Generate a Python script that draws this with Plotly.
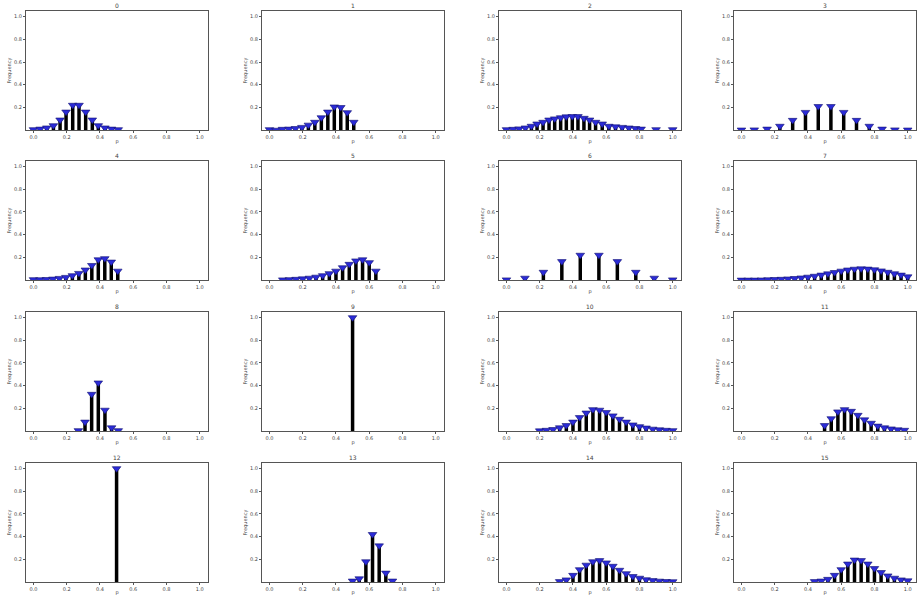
import plotly.graph_objects as go

titles = ["0", "1", "2", "3", "4", "5", "6", "7", "8", "9", "10", "11", "12", "13", "14", "15"]

x0 = [0.0, 0.04, 0.08, 0.12, 0.16, 0.196, 0.236, 0.274, 0.314, 0.354, 0.39, 0.43, 0.47, 0.51]
y0 = [0.005, 0.01, 0.02, 0.04, 0.09, 0.16, 0.22, 0.22, 0.16, 0.09, 0.04, 0.02, 0.01, 0.005]

x1 = [0.0, 0.039, 0.078, 0.117, 0.156, 0.195, 0.234, 0.273, 0.312, 0.351, 0.39, 0.429, 0.468, 0.507]
y1 = [0.005, 0.0, 0.008, 0.01, 0.015, 0.025, 0.045, 0.07, 0.11, 0.16, 0.205, 0.2, 0.155, 0.07]

x2 = [0.0, 0.04, 0.076, 0.114, 0.15, 0.184, 0.22, 0.256, 0.29, 0.326, 0.36, 0.396, 0.43, 0.466,
      0.5, 0.536, 0.576, 0.616, 0.656, 0.696, 0.736, 0.776, 0.81, 0.9, 1.0]
y2 = [0.005, 0.008, 0.012, 0.02, 0.035, 0.055, 0.07, 0.09, 0.1, 0.11, 0.118, 0.12, 0.12, 0.105,
      0.09, 0.07, 0.055, 0.035, 0.03, 0.025, 0.02, 0.015, 0.01, 0.005, 0.005]

x3 = [0.0, 0.077, 0.154, 0.231, 0.308, 0.385, 0.462, 0.538, 0.615, 0.692, 0.769, 0.846, 0.923, 1.0]
y3 = [0.002, 0.003, 0.01, 0.035, 0.087, 0.157, 0.209, 0.209, 0.157, 0.087, 0.035, 0.01, 0.003, 0.002]

x4 = [0.0, 0.039, 0.078, 0.117, 0.156, 0.195, 0.234, 0.273, 0.312, 0.351, 0.39, 0.429, 0.468, 0.507]
y4 = [0.005, 0.004, 0.006, 0.01, 0.016, 0.025, 0.04, 0.06, 0.09, 0.13, 0.18, 0.19, 0.16, 0.08]

x5 = [0.08, 0.12, 0.16, 0.2, 0.24, 0.28, 0.32, 0.36, 0.4, 0.44, 0.48, 0.52, 0.56, 0.6, 0.64]
y5 = [0.003, 0.005, 0.008, 0.012, 0.018, 0.027, 0.04, 0.058, 0.08, 0.11, 0.14, 0.17, 0.18, 0.155, 0.08]

x6 = [0.0, 0.111, 0.222, 0.333, 0.444, 0.556, 0.667, 0.778, 0.889, 1.0]
y6 = [0.003, 0.018, 0.07, 0.164, 0.22, 0.22, 0.164, 0.07, 0.018, 0.003]

x7 = [0.0, 0.04, 0.08, 0.12, 0.16, 0.2, 0.24, 0.28, 0.32, 0.36, 0.4, 0.44, 0.48, 0.52, 0.56,
      0.6, 0.64, 0.68, 0.72, 0.76, 0.8, 0.84, 0.88, 0.92, 0.96, 1.0]
y7 = [0.001, 0.001, 0.001, 0.002, 0.004, 0.006, 0.008, 0.011, 0.015, 0.02, 0.027, 0.035, 0.045,
      0.056, 0.068, 0.08, 0.09, 0.097, 0.1, 0.098, 0.092, 0.082, 0.07, 0.057, 0.045, 0.03]

x8 = [0.27, 0.31, 0.35, 0.39, 0.43, 0.47, 0.51]
y8 = [0.005, 0.08, 0.325, 0.425, 0.185, 0.03, 0.005]

x9 = [0.5]
y9 = [1.0]

x10 = [0.2, 0.24, 0.28, 0.32, 0.36, 0.4, 0.44, 0.48, 0.52, 0.56, 0.6, 0.64, 0.68, 0.72, 0.76,
       0.8, 0.84, 0.88, 0.92, 0.96, 1.0]
y10 = [0.003, 0.008, 0.015, 0.03, 0.05, 0.08, 0.12, 0.16, 0.19, 0.185, 0.165, 0.135, 0.105, 0.08,
       0.055, 0.04, 0.028, 0.018, 0.012, 0.008, 0.005]

x11 = [0.5, 0.54, 0.58, 0.62, 0.66, 0.7, 0.74, 0.78, 0.82, 0.86, 0.9, 0.94, 0.98]
y11 = [0.05, 0.11, 0.17, 0.19, 0.175, 0.14, 0.1, 0.07, 0.045, 0.03, 0.02, 0.012, 0.008]

x12 = [0.5]
y12 = [1.0]

x13 = [0.5, 0.54, 0.58, 0.62, 0.66, 0.7, 0.74]
y13 = [0.01, 0.03, 0.18, 0.42, 0.32, 0.08, 0.01]

x14 = [0.32, 0.36, 0.4, 0.44, 0.48, 0.52, 0.56, 0.6, 0.64, 0.68, 0.72, 0.76, 0.8, 0.84, 0.88,
       0.92, 0.96, 1.0]
y14 = [0.005, 0.02, 0.06, 0.11, 0.15, 0.18, 0.19, 0.17, 0.14, 0.105, 0.075, 0.05, 0.035, 0.022,
       0.014, 0.009, 0.006, 0.004]

x15 = [0.44, 0.48, 0.52, 0.56, 0.6, 0.64, 0.68, 0.72, 0.76, 0.8, 0.84, 0.88, 0.92, 0.96, 1.0]
y15 = [0.005, 0.01, 0.025, 0.06, 0.11, 0.16, 0.195, 0.19, 0.16, 0.12, 0.085, 0.055, 0.035, 0.02, 0.012]

xs = [x0, x1, x2, x3, x4, x5, x6, x7, x8, x9, x10, x11, x12, x13, x14, x15]
ys = [y0, y1, y2, y3, y4, y5, y6, y7, y8, y9, y10, y11, y12, y13, y14, y15]

x_ticks = [0.0, 0.2, 0.4, 0.6, 0.8, 1.0]
x_ticktext = ["0.0", "0.2", "0.4", "0.6", "0.8", "1.0"]
y_ticks = [0.2, 0.4, 0.6, 0.8, 1.0]
y_ticktext = ["0.2", "0.4", "0.6", "0.8", "1.0"]

W, H = 919, 596
col_left = [26, 262, 499, 734]
col_w = 182
row_top = [11, 162, 314, 466]
row_h = 120

fig = go.Figure()
layout = dict(width=W, height=H, margin=dict(l=0, r=0, t=0, b=0),
              paper_bgcolor="white", plot_bgcolor="white", showlegend=False,
              font=dict(family="DejaVu Sans", size=5, color="#444444"))
annotations = []

for i in range(16):
    r, c = divmod(i, 4)
    ax = "" if i == 0 else str(i + 1)
    xd = [col_left[c] / W, (col_left[c] + col_w) / W]
    yd = [(H - row_top[r] - row_h) / H, (H - row_top[r]) / H]
    lx, ly = [], []
    for xv, yv in zip(xs[i], ys[i]):
        lx += [xv, xv, None]
        ly += [0, yv, None]
    fig.add_trace(go.Scatter(x=lx, y=ly, mode="lines", line=dict(color="black", width=3.5),
                             xaxis="x" + ax, yaxis="y" + ax, hoverinfo="skip"))
    fig.add_trace(go.Scatter(x=xs[i], y=ys[i], mode="markers",
                             marker=dict(symbol="triangle-down", size=7.5, color="#2b2bd6",
                                         line=dict(color="#101070", width=0.6)),
                             xaxis="x" + ax, yaxis="y" + ax))
    common = dict(showline=True, mirror=True, linecolor="#555555", linewidth=1, showgrid=False,
                  zeroline=False, ticks="outside", ticklen=2, tickcolor="#555555",
                  tickfont=dict(size=5, color="#444444"))
    layout["xaxis" + ax] = dict(domain=xd, range=[-0.045, 1.05], anchor="y" + ax,
                                tickvals=x_ticks, ticktext=x_ticktext,
                                title=dict(text="p", font=dict(size=5, color="#444444"), standoff=0),
                                **common)
    layout["yaxis" + ax] = dict(domain=yd, range=[0, 1.05], anchor="x" + ax,
                                tickvals=y_ticks, ticktext=y_ticktext,
                                title=dict(text="Frequency", font=dict(size=5, color="#444444"), standoff=2),
                                **common)
    annotations.append(dict(text=titles[i], x=(xd[0] + xd[1]) / 2, y=yd[1], xref="paper",
                            yref="paper", xanchor="center", yanchor="bottom", showarrow=False,
                            yshift=0, font=dict(size=6, color="#444444")))

layout["annotations"] = annotations
fig.update_layout(**layout)
fig.write_html("out.html", config={"displayModeBar": False},
               post_script="document.body.style.margin='0';document.body.style.overflow='hidden';")
